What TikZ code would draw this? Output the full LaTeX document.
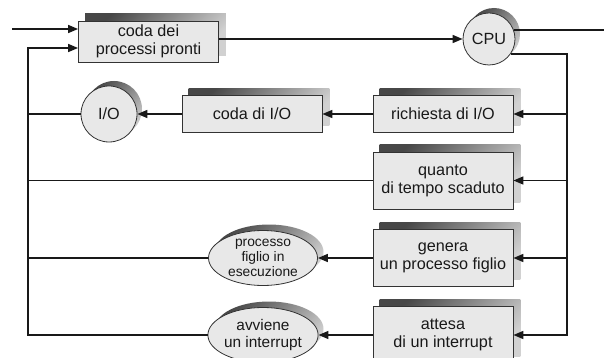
\documentclass[tikz,border=0pt]{standalone}
\usepackage{fontspec}
\setmainfont{Liberation Sans}
\usetikzlibrary{arrows.meta,shapes.geometric,backgrounds}
\begin{document}
\begin{tikzpicture}[x=1pt,y=-1pt,
  every node/.style={font=\fontsize{16.2}{18}\selectfont, text=black!90},
  qbox/.style={draw=black!80, line width=0.8pt, fill=black!9,
    minimum width=140pt, inner sep=0pt, align=center},
  dev/.style={circle, draw=black!80, line width=0.8pt, fill=black!9, inner sep=0pt},
  evt/.style={ellipse, draw=black!80, line width=0.8pt, fill=black!9,
    minimum width=109pt, minimum height=55pt, inner sep=0pt, align=center},
  link/.style={line width=1.5pt, black!90},
  flow/.style={link, -{Triangle[length=10pt,width=8pt]}},
  shadowfill/.style={top color=black!72, bottom color=black!18, shading angle=45}
]
\useasboundingbox (0,0) rectangle (604,358);

% queues, devices and events
\node[qbox, minimum height=41pt] (ready) at (148.5,41.5) {coda dei\\processi pronti};
\node[dev, minimum size=52pt] (cpu) at (489,39) {CPU};
\node[qbox, minimum height=37pt] (req) at (443,114) {richiesta di I/O};
\node[qbox, minimum height=37pt] (ioq) at (252,114) {coda di I/O};
\node[dev, minimum size=56pt] (io) at (109,114) {I/O};
\node[qbox, minimum height=57pt] (slice) at (443,180.5) {quanto\\di tempo scaduto};
\node[qbox, minimum height=57pt] (fork) at (443,258) {genera\\un processo figlio};
\node[qbox, minimum height=57pt] (wait) at (443,335) {attesa\\di un interrupt};
\node[evt, font=\fontsize{13.8}{14.8}\selectfont] (child) at (263,258) {processo\\figlio in\\esecuzione};
\node[evt, font=\fontsize{15.4}{17}\selectfont] (intr) at (263,335) {avviene\\un interrupt};

% offset shaded shadows behind every shape
\begin{scope}[on background layer]
  \foreach \n in {ready,req,ioq,slice,fork,wait}
    \shade[shadowfill] ([shift={(7pt,7pt)}]\n.south west) rectangle ([shift={(7pt,7pt)}]\n.north east);
  \shade[shadowfill] ([shift={(5pt,5pt)}]cpu.center) circle[radius=26pt];
  \shade[shadowfill] ([shift={(5pt,5pt)}]io.center) circle[radius=28pt];
  \shade[shadowfill] ([shift={(6pt,6pt)}]child.center) ellipse[x radius=54.5pt, y radius=27.5pt];
  \shade[shadowfill] ([shift={(6pt,6pt)}]intr.center) ellipse[x radius=54.5pt, y radius=27.5pt];
\end{scope}

% bus ends
\coordinate (in) at (12,29);
\coordinate (lt) at (28,48);
\coordinate (rb) at (567,54);
\coordinate (out) at (604,30);

% entry and dispatch
\draw[flow] (in) -- (in -| ready.west);
\draw[flow] (ready.east |- cpu.west) -- (cpu.west);
\draw[link] (cpu.20) -- (cpu.20 -| out);

% right bus from the CPU to the events
\draw[flow] (cpu.-35) -- (cpu.-35 -| rb) -- (rb |- wait.east) -- (wait.east);
\draw[flow] (req.east -| rb) -- (req.east);
\draw[flow] (slice.east -| rb) -- (slice.east);
\draw[flow] (fork.east -| rb) -- (fork.east);

% middle transitions
\draw[flow] (req.west) -- (ioq.east);
\draw[flow] (ioq.west) -- (io.east);
\draw[flow] (fork.west) -- (child.east);
\draw[flow] (wait.west) -- (intr.east);

% left bus back to the ready queue
\draw[flow] (intr.west) -- (intr.west -| lt) -- (lt) -- (lt -| ready.west);
\draw[link] (child.west) -- (child.west -| lt);
\draw[link] (slice.west) -- (slice.west -| lt);
\draw[link] (io.west) -- (io.west -| lt);
\end{tikzpicture}
\end{document}
